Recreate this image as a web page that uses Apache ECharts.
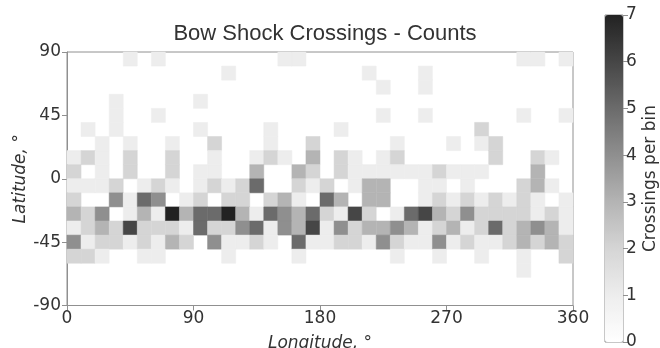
<!DOCTYPE html>
<html>
<head>
<meta charset="utf-8">
<script src="https://cdn.jsdelivr.net/npm/echarts@6/dist/echarts.min.js"></script>
<style>
html,body{margin:0;padding:0;background:#fff;}
#chart{width:660px;height:348px;}
</style>
</head>
<body>
<div id="chart"></div>
<script>
// Bin edges (degrees): longitude bins start at these values, each 10 deg wide
const lonStarts = [0,10,20,30,40,50,60,70,80,90,100,110,120,130,140,150,160,170,
                   180,190,200,210,220,230,240,250,260,270,280,290,300,310,320,330,340,350];
// Latitude bin lower edges, top row first
const latStarts = [80,70,60,50,40,30,20,10,0,-10,-20,-30,-40,-50,-60,-70];
const xTicks = [0,90,180,270,360];
const yTicks = [-90,-45,0,45,90];
const cbarTicks = [0,1,2,3,4,5,6,7];

// Counts per bin, one array per latitude row (36 longitude bins each)
const lat80 = [0,0,0,0,1,0,1,0,0,0,0,0,0,0,0,1,1,0, 0,0,0,0,0,0,0,0,0,0,0,0,0,0,1,1,0,1];
const lat70 = [0,0,0,0,0,0,0,0,0,0,0,1,0,0,0,0,0,0, 0,0,0,1,0,0,0,1,0,0,0,0,0,0,0,0,0,0];
const lat60 = [0,0,0,0,0,0,0,0,0,0,0,0,0,0,0,0,0,0, 0,0,0,0,1,0,0,1,0,0,0,0,0,0,0,0,0,0];
const lat50 = [0,0,0,1,0,0,0,0,0,1,0,0,0,0,0,0,0,0, 0,0,0,0,0,0,0,0,0,0,0,0,0,0,0,0,0,0];
const lat40 = [0,0,0,1,0,0,1,0,0,0,0,0,0,0,0,0,0,0, 0,0,0,0,1,0,0,1,0,0,0,0,0,0,1,0,0,1];
const lat30 = [0,1,0,1,0,0,0,0,0,1,0,0,0,0,1,0,0,0, 0,1,0,0,0,0,0,0,0,0,0,2,0,0,0,0,0,0];
const lat20 = [0,0,1,0,1,0,0,1,0,0,2,0,0,0,1,0,0,2, 0,0,0,0,0,1,0,0,0,1,0,1,2,0,0,0,0,0];
const lat10 = [1,2,1,0,2,0,0,2,0,0,1,0,0,1,2,1,0,3, 0,2,1,0,1,2,0,0,0,0,0,0,2,0,0,2,1,0];
const lat0  = [2,0,1,0,2,0,0,2,0,1,1,0,0,3,0,0,3,2, 0,2,1,1,1,1,1,1,2,1,1,1,0,0,0,3,0,0];
const latM10 = [1,1,1,2,0,1,2,1,0,1,2,1,2,5,0,0,2,1, 2,0,1,3,3,0,0,1,1,0,1,0,0,0,2,3,1,0];
const latM20 = [2,0,0,4,1,5,4,0,1,2,0,2,2,0,2,3,1,0, 5,3,0,3,3,0,0,1,2,1,2,1,2,1,2,1,0,1];
const latM30 = [3,2,4,0,1,3,1,7,3,5,5,7,3,1,5,4,3,5, 2,1,6,2,0,1,5,6,3,2,4,2,2,2,2,1,2,1];
const latM40 = [1,2,3,2,6,2,2,2,1,5,2,2,4,5,1,4,3,6, 1,4,2,3,3,4,3,1,2,3,1,2,5,2,3,4,3,1];
const latM50 = [4,1,2,2,1,2,1,3,2,0,4,1,1,2,1,0,5,1, 1,2,2,1,4,2,1,1,4,1,2,1,1,2,3,2,3,2];
const latM60 = [2,2,1,0,0,1,1,0,0,0,0,1,0,0,0,0,1,0, 0,0,0,0,0,1,0,0,1,0,0,1,0,0,1,0,0,2];
const latM70 = [0,0,0,0,0,0,0,0,0,0,0,0,0,0,0,0,0,0, 0,0,0,0,0,0,0,0,0,0,0,0,0,0,1,0,0,0];

const rows = [lat80,lat70,lat60,lat50,lat40,lat30,lat20,lat10,lat0,latM10,latM20,latM30,latM40,latM50,latM60,latM70];

const cells = [];
rows.forEach(function(row, r){
  row.forEach(function(v, c){
    if (v > 0) cells.push([lonStarts[c], latStarts[r], v]);
  });
});

const chart = echarts.init(document.getElementById('chart'), null, {renderer:'canvas'});
const FONT = 'DejaVu Sans';
const TXT = '#333333';
const AX = '#909090';

chart.setOption({
  backgroundColor:'#ffffff',
  animation:false,
  title:{
    text:'Bow Shock Crossings - Counts',
    left:320, top:18, textAlign:'center',
    textStyle:{fontFamily:'Liberation Sans', fontSize:22, fontWeight:'normal', color:TXT}
  },
  grid:[
    {left:67, top:52, width:506, height:253.5, show:true, borderColor:AX, borderWidth:1,
     backgroundColor:'transparent', containLabel:false, outerBoundsMode:'none'},
    {left:605, top:15, width:18, height:327, show:true, borderColor:AX, borderWidth:1,
     backgroundColor:'transparent', containLabel:false, outerBoundsMode:'none'}
  ],
  xAxis:[
    {gridIndex:0, type:'value', min:0, max:360, interval:90,
     axisLine:{show:true, onZero:false, lineStyle:{color:AX}},
     axisTick:{show:true, inside:false, length:5, lineStyle:{color:AX}},
     splitLine:{show:false},
     axisLabel:{fontFamily:FONT, fontSize:17, color:TXT, margin:5,
       formatter:function(v){return xTicks.indexOf(v)>=0 ? String(v) : '';}},
     name:'Longitude, °', nameLocation:'middle', nameGap:30,
     nameTextStyle:{fontFamily:FONT, fontSize:17, fontStyle:'italic', color:TXT}},
    {gridIndex:1, type:'category', data:[''], show:false}
  ],
  yAxis:[
    {gridIndex:0, type:'value', min:-90, max:90, interval:45,
     axisLine:{show:true, onZero:false, lineStyle:{color:AX}},
     axisTick:{show:true, inside:false, length:5, lineStyle:{color:AX}},
     splitLine:{show:false},
     axisLabel:{fontFamily:FONT, fontSize:17, color:TXT, margin:6,
       formatter:function(v){return yTicks.indexOf(v)>=0 ? String(v) : '';}},
     name:'Latitude, °', nameLocation:'middle', nameGap:38, nameRotate:90, nameMoveOverlap:false,
     nameTextStyle:{fontFamily:FONT, fontSize:17, fontStyle:'italic', color:TXT}},
    {gridIndex:1, type:'value', min:0, max:7, interval:1, position:'right',
     axisLine:{show:false},
     axisTick:{show:true, inside:false, length:5, lineStyle:{color:AX}},
     splitLine:{show:false},
     axisLabel:{fontFamily:FONT, fontSize:17, color:TXT, margin:3,
       formatter:function(v){return cbarTicks.indexOf(v)>=0 ? String(v) : '';}},
     name:'Crossings per bin', nameLocation:'middle', nameGap:19, nameRotate:90, nameMoveOverlap:false,
     nameTextStyle:{fontFamily:FONT, fontSize:17, color:TXT}}
  ],
  visualMap:{
    type:'continuous', min:0, max:7, dimension:2, seriesIndex:0,
    orient:'vertical', left:605, top:15, itemWidth:18, itemHeight:327,
    padding:0, calculable:false, text:null, showLabel:false, hoverLink:false,
    inRange:{color:['#ffffff','#ededed','#d5d5d5','#b4b4b4','#8f8f8f','#6b6b6b','#464646','#222222']}
  },
  series:[{
    type:'custom',
    xAxisIndex:0, yAxisIndex:0,
    coordinateSystem:'cartesian2d',
    encode:{x:0, y:1},
    data:cells,
    renderItem:function(params, api){
      const lon = api.value(0), lat = api.value(1);
      const p1 = api.coord([lon, lat + 10]);
      const p2 = api.coord([lon + 10, lat]);
      const col = api.visual('color');
      return {type:'rect',
        shape:{x:p1[0], y:p1[1], width:p2[0]-p1[0], height:p2[1]-p1[1]},
        style:{fill:col, stroke:col, lineWidth:0.5}};
    }
  }]
});
</script>
</body>
</html>
